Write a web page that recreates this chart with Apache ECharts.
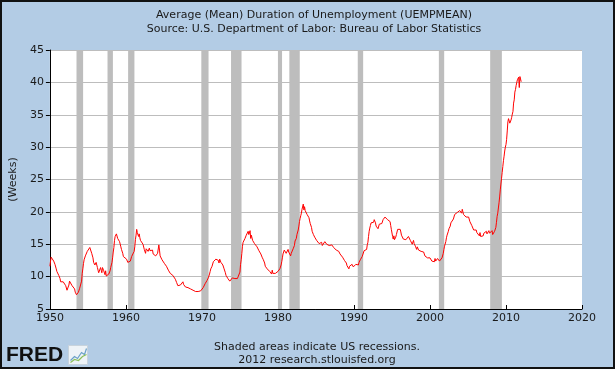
<!DOCTYPE html>
<html>
<head>
<meta charset="utf-8">
<script src="https://cdn.jsdelivr.net/npm/echarts@6/dist/echarts.min.js"></script>
<style>
html,body{margin:0;padding:0;background:#b3cce5;}
#c{width:615px;height:369px;}
</style>
</head>
<body>
<div id="c"></div>
<script>
// Monthly average duration of unemployment (weeks), starting Jan 1950
const startYear = 1950;
const uemp1950s = [
  11.6,12.4,13.0,13.1,12.7,12.9,12.4,12.5,11.9,11.6,11.2,10.8,
  10.6,10.9,10.2,10.5,9.7,9.2,9.0,9.3,9.1,9.2,8.9,9.4,
  9.0,8.6,8.3,7.9,7.6,8.1,8.7,9.3,9.6,9.2,9.0,8.6,
  8.5,8.9,8.4,8.1,7.6,7.5,7.2,7.4,7.1,7.6,7.8,8.2,
  8.5,8.4,9.3,10.5,11.2,12.0,12.6,12.9,13.2,13.0,13.5,13.9,
  13.7,14.0,14.2,14.5,14.3,14.6,13.6,13.3,12.9,12.2,12.0,11.8,
  11.6,12.2,12.0,11.4,11.0,10.6,10.3,10.8,11.4,11.0,10.6,11.4,
  11.3,10.9,10.6,10.3,10.9,10.1,10.0,9.8,10.2,10.4,10.7,10.9,
  11.4,11.8,12.2,12.9,13.8,14.5,15.6,16.2,16.3,16.6,16.3,15.9,
  15.8,16.1,15.4,15.2,14.6,14.2,13.9,13.6,13.1,13.4,13.0,13.2
];
const uemp1960s = [
  13.2,12.7,12.6,12.2,12.5,11.9,12.3,12.4,12.2,13.1,13.3,13.0,
  13.4,13.9,14.6,15.7,16.4,17.3,16.8,17.0,16.2,16.6,16.0,15.6,
  15.8,15.3,15.6,15.0,14.7,14.2,14.0,13.6,14.3,14.0,14.5,13.9,
  14.1,14.4,14.0,14.2,13.7,13.9,14.1,13.5,13.8,13.3,13.6,13.2,
  13.5,13.0,13.6,13.4,14.9,14.1,13.2,13.4,12.9,12.6,12.8,12.3,
  12.4,12.0,11.9,12.2,11.6,11.3,11.5,11.0,10.8,10.9,10.5,10.6,
  10.7,10.4,10.2,10.5,10.0,9.9,9.6,9.4,9.1,8.9,8.6,8.7,
  8.8,8.5,8.7,8.4,8.6,8.9,9.2,8.8,8.9,8.6,8.4,8.7,
  8.6,8.5,8.3,8.4,8.2,8.5,8.1,8.3,8.0,8.2,7.9,8.1,
  8.0,7.9,7.7,7.8,7.6,7.9,7.7,7.5,7.9,7.6,7.8,7.5
];
const uemp1970s = [
  7.9,8.0,8.3,8.2,8.6,8.9,8.7,9.2,9.4,9.6,9.8,10.1,
  10.4,10.8,11.2,11.1,11.6,11.9,12.3,12.0,12.5,12.3,12.7,12.4,
  12.6,12.8,12.5,12.1,12.7,12.4,12.2,12.0,12.3,11.8,11.5,11.2,
  10.9,10.6,10.2,9.9,10.1,9.7,9.5,9.7,9.3,9.6,9.4,9.5,
  9.8,9.6,10.0,9.5,9.7,9.9,9.6,9.8,9.7,9.9,9.5,9.8,
  10.7,11.9,12.6,13.6,14.7,15.3,15.1,15.6,15.9,16.0,16.4,16.6,
  16.3,17.0,16.5,16.8,17.1,15.9,16.4,16.2,15.6,15.3,15.7,15.1,
  15.2,14.8,15.0,14.6,14.3,14.5,14.0,14.2,13.7,13.5,13.2,13.0,
  12.9,12.6,12.4,12.1,11.6,11.8,11.5,11.2,11.4,10.9,11.0,10.8,
  10.9,10.7,10.4,11.0,10.5,10.3,10.6,10.2,10.5,10.4,10.6,10.7
];
const uemp1980s = [
  10.8,11.0,10.7,11.2,11.0,11.8,12.3,12.9,13.5,13.7,14.1,14.0,
  13.8,13.6,13.4,13.9,14.2,13.8,14.0,13.5,13.2,13.6,13.4,13.9,
  14.3,14.6,14.8,15.5,15.8,15.9,16.5,16.8,17.2,17.8,18.5,19.0,
  19.4,19.8,20.4,20.6,21.2,20.3,20.8,20.2,20.0,19.9,19.6,19.4,
  19.5,19.1,18.6,18.2,17.9,17.6,17.0,16.8,16.5,16.4,16.1,15.8,
  15.9,15.6,15.8,15.3,15.4,15.1,15.2,14.9,15.0,15.3,14.8,14.9,
  15.1,15.0,15.4,15.2,15.5,15.0,14.9,15.3,15.0,14.8,15.1,14.9,
  14.7,14.9,14.6,14.8,14.5,14.6,14.2,14.4,14.1,13.9,14.0,13.8,
  13.9,13.7,13.5,13.6,13.3,13.4,13.0,12.8,12.9,12.5,12.3,12.6,
  12.1,11.7,11.4,11.8,11.2,11.6,11.5,11.7,11.6,11.9,11.8,11.5
];
const uemp1990s = [
  11.6,11.8,11.5,11.9,11.7,11.6,11.9,11.8,12.2,12.0,12.6,12.9,
  12.8,13.1,13.4,13.2,14.0,13.9,13.7,14.3,14.2,14.9,15.3,16.2,
  17.0,17.5,17.9,18.3,18.0,18.6,18.2,18.4,18.8,18.6,18.3,17.8,
  17.6,17.9,17.4,17.7,18.1,17.8,18.3,18.0,18.2,18.5,18.8,18.9,
  19.0,19.2,19.4,19.0,19.3,18.8,18.6,18.7,19.1,18.5,17.9,17.3,
  17.0,16.2,15.8,16.3,15.7,15.9,16.1,16.5,16.8,17.3,17.5,17.2,
  17.6,17.3,16.9,16.4,16.1,16.5,15.8,15.9,15.6,15.9,15.7,15.9,
  16.0,15.8,16.2,16.0,16.3,15.6,15.4,15.3,15.0,15.2,15.6,15.1,
  14.9,14.7,14.8,14.2,14.6,14.3,14.1,14.4,14.0,14.3,13.9,14.2,
  13.9,13.6,13.8,13.5,13.2,13.4,13.1,13.3,12.9,13.0,12.7,12.8
];
const uemp2000s = [
  12.9,12.6,12.7,12.4,12.6,12.2,12.5,12.3,12.8,12.4,12.5,12.1,
  12.8,13.1,12.6,12.4,12.2,12.1,12.5,12.9,13.0,13.6,14.2,14.7,
  14.9,15.4,16.0,16.4,16.6,17.0,17.4,17.2,17.8,18.3,18.0,18.4,
  18.6,18.9,19.2,19.6,19.5,19.8,19.4,19.9,19.7,20.0,19.6,20.2,
  19.9,20.1,19.8,20.4,20.0,19.6,19.8,19.4,19.6,19.2,19.5,19.3,
  19.1,19.2,18.9,18.5,18.2,18.4,17.9,17.6,17.8,17.2,17.4,17.1,
  16.9,17.2,16.8,16.5,16.9,16.6,16.3,16.8,16.2,16.5,16.0,16.4,
  16.3,16.7,16.9,16.4,16.8,17.0,16.6,16.9,16.4,17.1,16.7,16.5,
  16.9,16.6,17.1,16.5,16.8,16.4,17.0,16.9,17.6,18.4,19.3,19.8,
  20.6,21.4,22.3,23.4,24.3,25.2,26.1,27.0,27.9,28.6,29.4,30.0
];
const uemp2010s = [
  30.4,31.2,32.5,33.9,34.4,34.1,33.7,33.9,34.2,34.6,35.1,35.5,
  36.8,37.3,38.5,38.9,39.5,39.7,40.4,40.2,40.8,39.2,40.9,40.6,
  40.1
];
// Recession periods (NBER peak to trough), fractional years
const recessionStart = [1953.50,1957.58,1960.29,1969.92,1973.83,1980.00,1981.50,1990.50,2001.17,2007.92];
const recessionEnd   = [1954.37,1958.29,1961.12,1970.87,1975.21,1980.54,1982.87,1991.21,2001.87,2009.46];
const yearTicks = [1950,1960,1970,1980,1990,2000,2010,2020];
const weekTicks = [5,10,15,20,25,30,35,40,45];

const values = [].concat(uemp1950s,uemp1960s,uemp1970s,uemp1980s,uemp1990s,uemp2000s,uemp2010s);
const lineData = values.map((v,i)=>[startYear + i/12, v]);
const areas = recessionStart.map((s,i)=>[{xAxis:s},{xAxis:recessionEnd[i]}]);

const FONT = 'DejaVu Sans';
const chart = echarts.init(document.getElementById('c'), null, {renderer:'canvas'});
chart.setOption({
  backgroundColor:'#b3cce5',
  animation:false,
  textStyle:{fontFamily:FONT},
  title:[
    {text:'Average (Mean) Duration of Unemployment (UEMPMEAN)\nSource: U.S. Department of Labor: Bureau of Labor Statistics',
     left:309, top:3, textAlign:'center',
     textStyle:{fontFamily:FONT,fontSize:11,fontWeight:'normal',color:'#1a1a1a',lineHeight:14}},
    {text:'Shaded areas indicate US recessions.\n2012 research.stlouisfed.org',
     left:312, top:336, textAlign:'center',
     textStyle:{fontFamily:FONT,fontSize:11,fontWeight:'normal',color:'#1a1a1a',lineHeight:13}}
  ],
  grid:{left:46,right:33,top:50,bottom:60,containLabel:false,show:true,backgroundColor:'#ffffff',borderWidth:0},
  xAxis:{
    type:'value', min:yearTicks[0], max:yearTicks[yearTicks.length-1], interval:10,
    axisLine:{lineStyle:{color:'#000',width:1}},
    axisTick:{inside:true,length:4,lineStyle:{color:'#000'}},
    axisLabel:{color:'#1a1a1a',fontSize:11,fontFamily:FONT,margin:4,formatter:v=>String(v)},
    splitLine:{show:false}
  },
  yAxis:{
    type:'value', min:weekTicks[0], max:weekTicks[weekTicks.length-1], interval:5,
    name:'(Weeks)', nameLocation:'middle', nameGap:23, nameRotate:90,
    nameTextStyle:{color:'#1a1a1a',fontSize:11,fontFamily:FONT},
    axisLine:{show:true,lineStyle:{color:'#000',width:1}},
    axisTick:{show:true,length:4,lineStyle:{color:'#000'}},
    axisLabel:{color:'#1a1a1a',fontSize:11,fontFamily:FONT,margin:6},
    splitLine:{show:true,lineStyle:{color:'#bdbdbd',width:1}}
  },
  series:[
    {type:'line', data:[], silent:true, z:1,
     markArea:{silent:true, itemStyle:{color:'#bdbdbd'}, data:areas}},
    {type:'line', data:lineData, showSymbol:false, z:3,
     lineStyle:{color:'#ff0000',width:1}, itemStyle:{color:'#ff0000'}}
  ],
  graphic:[
    {type:'text', left:6, top:345, style:{text:'FRED', font:'bold 21px "Liberation Sans", Arial', fill:'#111'}},
    {type:'group', left:68, top:345, children:[
      {type:'rect', shape:{x:0,y:0,width:19,height:19}, style:{fill:'#eef3f7',stroke:'#c8d3dc'}},
      {type:'polyline', shape:{points:[[2,15],[6,11],[9,13],[13,7],[16,9],[18,3]]}, style:{stroke:'#6aa0c8',lineWidth:1.2,fill:null}},
      {type:'polyline', shape:{points:[[2,17],[6,14],[10,15],[14,11],[18,9]]}, style:{stroke:'#8cbf5a',lineWidth:1.2,fill:null}}
    ]},
    {type:'rect', shape:{x:1,y:1,width:613,height:367}, style:{fill:null,stroke:'#111',lineWidth:2}, z:100}
  ]
});
</script>
</body>
</html>
